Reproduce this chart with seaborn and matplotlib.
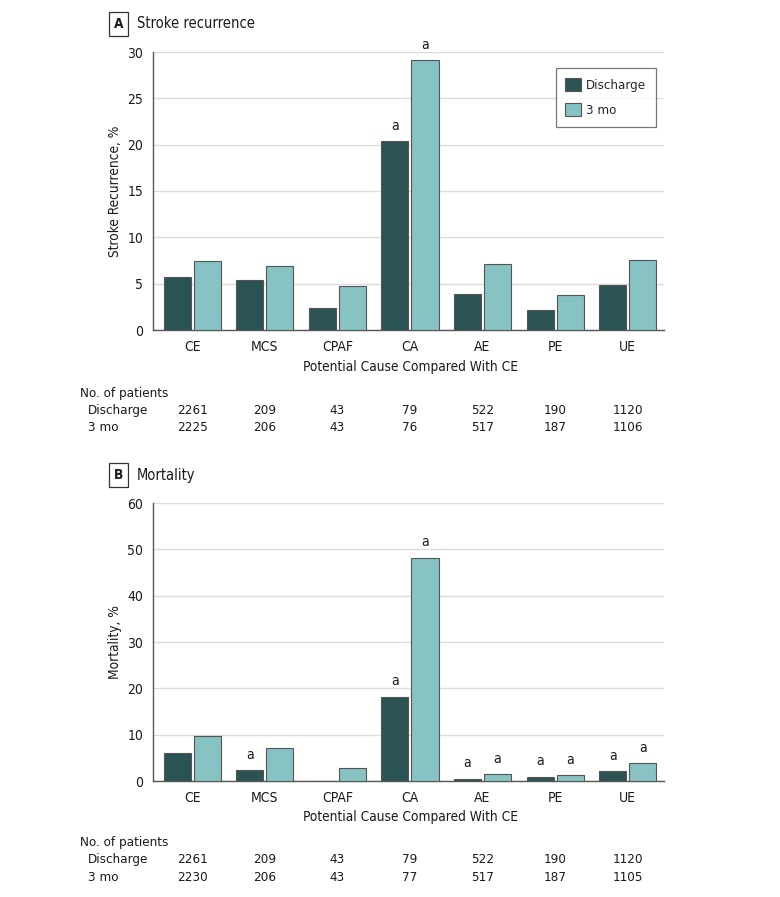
import matplotlib
matplotlib.use("Agg")
import matplotlib.pyplot as plt
import matplotlib.transforms as mtransforms
import matplotlib.font_manager as fm
import seaborn as sns
import pandas as pd

# ---------------- data ----------------
causes = ["CE", "MCS", "CPAF", "CA", "AE", "PE", "UE"]
times = ["Discharge", "3 mo"]

stroke_discharge = [5.7, 5.4, 2.4, 20.4, 3.9, 2.2, 4.9]
stroke_3mo = [7.4, 6.9, 4.7, 29.1, 7.1, 3.8, 7.5]
stroke_sig_discharge = [False, False, False, True, False, False, False]
stroke_sig_3mo = [False, False, False, True, False, False, False]

mort_discharge = [6.0, 2.3, 0.0, 18.2, 0.5, 0.9, 2.1]
mort_3mo = [9.7, 7.1, 2.7, 48.2, 1.5, 1.2, 3.9]
mort_sig_discharge = [False, True, False, True, True, True, True]
mort_sig_3mo = [False, False, False, True, True, True, True]

n_stroke_discharge = [2261, 209, 43, 79, 522, 190, 1120]
n_stroke_3mo = [2225, 206, 43, 76, 517, 187, 1106]
n_mort_discharge = [2261, 209, 43, 79, 522, 190, 1120]
n_mort_3mo = [2230, 206, 43, 77, 517, 187, 1105]

# ---------------- style ----------------
sns.set_style("white")
avail = {f.name for f in fm.fontManager.ttflist}
fam = "Liberation Sans Narrow" if "Liberation Sans Narrow" in avail else "DejaVu Sans"
plt.rcParams["font.family"] = [fam, "DejaVu Sans"]
if fam == "DejaVu Sans":
    plt.rcParams["font.stretch"] = "condensed"
TXT = "#1a1a1a"
SPINE = "#555555"
FS = 9.3
palette = {"Discharge": "#2b5354", "3 mo": "#86c3c2"}

fig = plt.figure(figsize=(7.8, 8.97), dpi=100)
W, H = 780, 897


def fy(py):
    return 1 - py / H


def fx(px):
    return px / W


def make_panel(top_px, bottom_px, disc, three, sig_d, sig_3, ymax, ystep,
               ylabel, letter, title, n_d, n_3, legend, rows_px, xlabel_px):
    left, right = 153, 664
    ax = fig.add_axes([fx(left), fy(bottom_px), fx(right - left), (bottom_px - top_px) / H])
    df = pd.DataFrame({
        "cause": causes * 2,
        "time": [times[0]] * len(causes) + [times[1]] * len(causes),
        "value": disc + three,
    })
    sns.barplot(data=df, x="cause", y="value", hue="time", order=causes,
                hue_order=times, palette=palette, saturation=1, width=0.83, gap=0.1,
                edgecolor="#555555", linewidth=0.8, ax=ax, errorbar=None,
                legend=legend, zorder=3)
    ax.set_xlim(-0.54, 6.5)
    ax.set_ylim(0, ymax)
    ax.set_yticks(range(0, ymax + 1, ystep))
    ax.grid(axis="y", color="#dcdcdc", linewidth=1.0, zorder=0)
    ax.set_axisbelow(True)
    for s in ["top", "right"]:
        ax.spines[s].set_visible(False)
    for s in ["left", "bottom"]:
        ax.spines[s].set_color(SPINE)
        ax.spines[s].set_linewidth(1.0)
    ax.tick_params(axis="both", which="major", labelsize=FS + 0.7, colors=SPINE,
                   labelcolor=TXT, length=4, width=0.8, direction="out", pad=3)
    ax.set_xlabel("")
    ax.set_ylabel(ylabel, fontsize=FS + 0.5, color=TXT)
    ax.yaxis.set_label_coords(-0.06, 0.5)

    # significance markers
    for cont, sigs in zip(ax.containers, [sig_d, sig_3]):
        for bar, s in zip(cont, sigs):
            if s:
                ax.annotate("a", (bar.get_x() + bar.get_width() / 2, bar.get_height()),
                            xytext=(0, 6), textcoords="offset points",
                            ha="center", va="bottom", fontsize=FS + 0.7, color=TXT)

    if legend:
        handles, labels = ax.get_legend_handles_labels()
        if ax.get_legend() is not None:
            ax.get_legend().remove()
        leg = ax.legend(handles, labels, loc="upper right",
                        bbox_to_anchor=(0.984, 0.942), fontsize=FS + 0.2,
                        frameon=True, fancybox=False, edgecolor="#555555",
                        handlelength=1.17, handleheight=1.17,
                        handletextpad=0.4, labelspacing=0.85, borderpad=0.72,
                        borderaxespad=0)
        leg.get_frame().set_linewidth(0.9)
    else:
        if ax.get_legend() is not None:
            ax.get_legend().remove()

    # panel title
    ty = (top_px - 28)
    fig.text(fx(118.5), fy(ty), letter, ha="center", va="center",
             fontsize=FS + 0.5, fontweight="bold", color=TXT,
             bbox=dict(boxstyle="square,pad=0.35", fc="white", ec="#333333", lw=0.9))
    fig.text(fx(137), fy(ty), title, ha="left", va="center", fontsize=FS + 1.2, color=TXT)

    # x axis title
    fig.text(fx((left + right) / 2 + 2), fy(xlabel_px), "Potential Cause Compared With CE",
             ha="center", va="center", fontsize=FS + 0.5, color=TXT)

    # number at risk table
    trans = mtransforms.blended_transform_factory(ax.transData, fig.transFigure)
    fig.text(fx(80), fy(rows_px[0]), "No. of patients", ha="left", va="center",
             fontsize=FS + 0.3, color=TXT)
    fig.text(fx(88), fy(rows_px[1]), "Discharge", ha="left", va="center",
             fontsize=FS + 0.3, color=TXT)
    fig.text(fx(88), fy(rows_px[2]), "3 mo", ha="left", va="center",
             fontsize=FS + 0.3, color=TXT)
    for i in range(len(causes)):
        ax.text(i, fy(rows_px[1]), str(n_d[i]), transform=trans, ha="center",
                va="center", fontsize=FS + 0.3, color=TXT)
        ax.text(i, fy(rows_px[2]), str(n_3[i]), transform=trans, ha="center",
                va="center", fontsize=FS + 0.3, color=TXT)
    return ax


make_panel(52, 330, stroke_discharge, stroke_3mo, stroke_sig_discharge,
           stroke_sig_3mo, 30, 5, "Stroke Recurrence, %", "A",
           "Stroke recurrence", n_stroke_discharge, n_stroke_3mo, True,
           (393, 410, 427), 367)
make_panel(503, 781, mort_discharge, mort_3mo, mort_sig_discharge,
           mort_sig_3mo, 60, 10, "Mortality, %", "B", "Mortality",
           n_mort_discharge, n_mort_3mo, False, (842, 859, 877), 817)

fig.savefig("out.png", dpi=100, facecolor="white")
